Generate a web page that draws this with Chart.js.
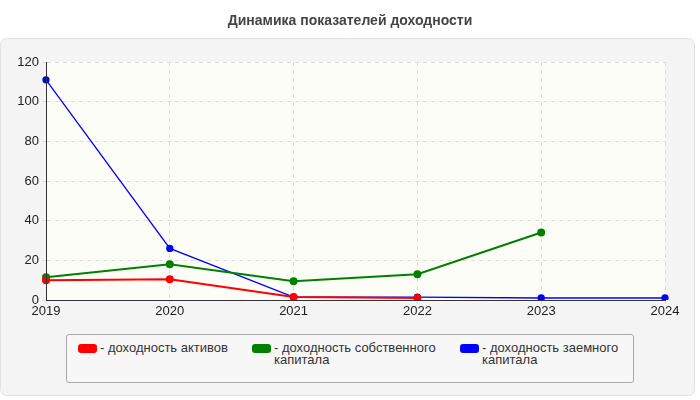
<!DOCTYPE html>
<html><head><meta charset="utf-8">
<script src="https://cdn.jsdelivr.net/npm/chart.js@4"></script>
<style>
body{margin:0;background:#fff;font-family:"Liberation Sans",Arial,sans-serif;}
#wrap{position:relative;width:700px;height:400px;}
canvas{position:absolute;left:0;top:0;}
#legend{position:absolute;left:66px;top:334px;width:566px;height:47px;border:1px solid #aaa;border-radius:3px;background:#f7f7f7;font-size:13px;color:#333;}
.it{position:absolute;top:7px;line-height:12px;}
.sw{position:absolute;left:0;top:2px;width:19px;height:9px;border-radius:3px;}
.tx{position:absolute;left:22px;top:0;white-space:nowrap;}
</style></head><body>
<div id="wrap"><canvas id="c" width="700" height="400"></canvas>
<div id="legend"></div></div>
<script>
const years=["2019","2020","2021","2022","2023","2024"];
const seriesNames=["- доходность активов","- доходность собственного<br>капитала","- доходность заемного<br>капитала"];
const assets=[10,10.5,1.5,1,null,null];
const equity=[11.5,18,9.5,13,34,null];
const borrowed=[111,26,1.5,1.5,1,1];
const colors=["#ff0000","#008000","#0000ff"];
const legendX=[11,185,393];
const lg=document.getElementById('legend');
seriesNames.forEach((n,i)=>{lg.innerHTML+=`<div class="it" style="left:${legendX[i]}px"><div class="sw" style="background:${colors[i]}"></div><div class="tx">${n}</div></div>`;});
const bg={id:'bg',beforeDraw(ch){const c=ch.ctx,a=ch.chartArea;c.save();
c.fillStyle='#f4f4f4';c.strokeStyle='#e2e2e2';c.beginPath();c.roundRect(0.5,38.5,694,357,6);c.fill();c.stroke();
c.fillStyle='#fdfdf8';c.fillRect(a.left,a.top,a.right-a.left,a.bottom-a.top);
c.fillStyle='#444';c.font='bold 14px "Liberation Sans",Arial';c.textAlign='center';c.fillText('Динамика показателей доходности',350,25);c.restore();}};
const mk=(d,i)=>({data:d,borderColor:colors[i],backgroundColor:colors[i],borderWidth:i==2?1.3:2,pointRadius:3,pointHoverRadius:3,tension:0,spanGaps:false});
new Chart(document.getElementById('c'),{type:'line',
data:{labels:years,datasets:[mk(assets,0),mk(equity,1),mk(borrowed,2)]},
options:{responsive:false,animation:false,layout:{padding:{left:0,right:35,top:62,bottom:80}},
plugins:{legend:{display:false},tooltip:{enabled:false}},
scales:{x:{offset:false,grid:{color:'#dddddd',tickLength:4,drawTicks:true},border:{color:'#333',dash:[4,4]},ticks:{color:'#222',font:{size:13,family:'"Liberation Sans",Arial'},padding:0,maxRotation:0},afterFit(s){s.height=20;}},
y:{min:0,max:120,ticks:{stepSize:20,color:'#222',font:{size:13,family:'"Liberation Sans",Arial'},padding:3},grid:{color:'#dddddd',tickLength:4},border:{color:'#333',dash:[4,4]},afterFit(s){s.width=46;}}}},
plugins:[bg,{id:'ax',afterDatasetsDraw(ch){const c=ch.ctx,a=ch.chartArea;c.save();c.strokeStyle='#333';c.lineWidth=1;c.beginPath();c.moveTo(a.left+0.5,a.top);c.lineTo(a.left+0.5,a.bottom);c.moveTo(a.left,a.bottom+0.5);c.lineTo(a.right,a.bottom+0.5);c.stroke();c.restore();}}]});
</script></body></html>
